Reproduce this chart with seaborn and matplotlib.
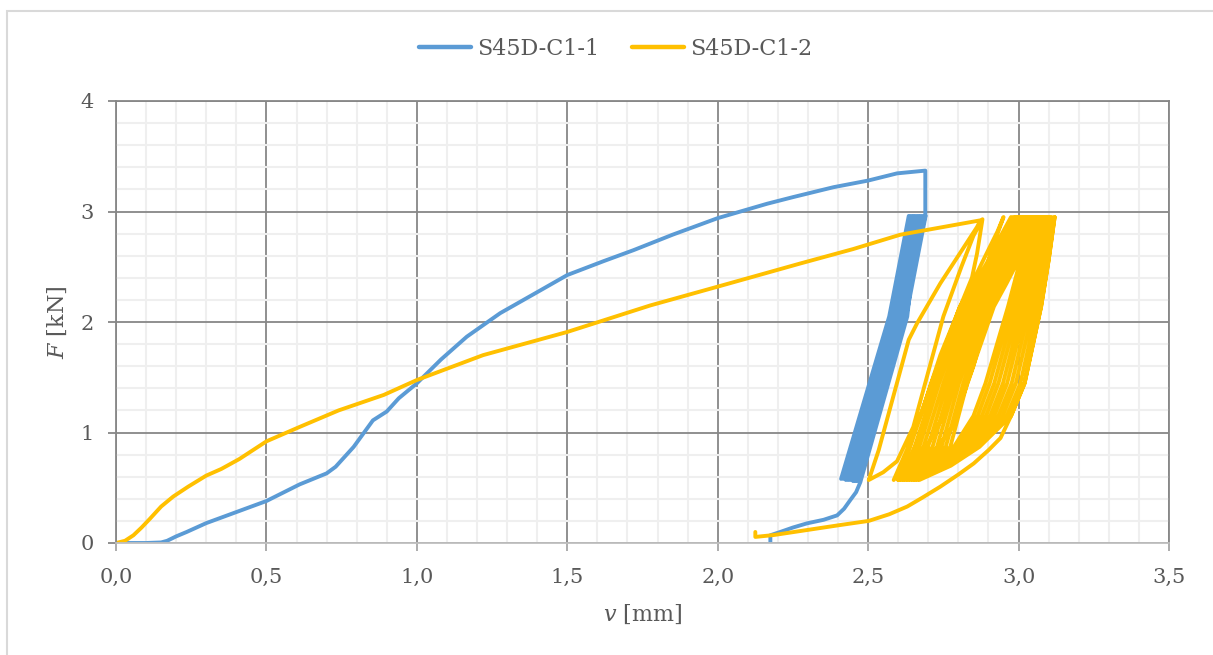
import matplotlib
matplotlib.use('Agg')
import pandas as pd
import seaborn as sns
import matplotlib.pyplot as plt
from matplotlib.ticker import MultipleLocator, FixedLocator
from matplotlib.patches import Rectangle

# S45D-C1-1 (blue): monotonic loading up to the peak
c1_load_v = [0.000, 0.050, 0.100, 0.150, 0.170, 0.200, 0.235, 0.300, 0.390, 0.500,
             0.610, 0.700, 0.730, 0.790, 0.854, 0.900, 0.940, 1.000, 1.080, 1.166,
             1.277, 1.400, 1.500, 1.620, 1.720, 1.850, 2.000, 2.164, 2.250, 2.385,
             2.500, 2.596, 2.690]
c1_load_F = [0.00, 0.00, 0.00, 0.005, 0.02, 0.06, 0.10, 0.18, 0.27, 0.38,
             0.53, 0.63, 0.69, 0.87, 1.11, 1.19, 1.31, 1.445, 1.66, 1.867,
             2.08, 2.27, 2.425, 2.55, 2.65, 2.79, 2.94, 3.07, 3.13, 3.22,
             3.28, 3.345, 3.37]

# S45D-C1-1: load cycles (turning points and mid points)
c1_cyc_v = [2.690, 2.600, 2.410, 2.570, 2.635, 2.600, 2.466, 2.626, 2.691,
            2.605, 2.418, 2.578, 2.643, 2.605, 2.458, 2.618, 2.683, 2.600,
            2.426, 2.586, 2.651, 2.605, 2.450, 2.610, 2.675, 2.600, 2.434,
            2.594, 2.659, 2.600, 2.442, 2.602, 2.667, 2.630, 2.474]
c1_cyc_F = [2.96, 2.05, 0.58, 2.05, 2.96, 2.05, 0.56, 2.05, 2.96,
            2.05, 0.58, 2.05, 2.96, 2.05, 0.56, 2.05, 2.96, 2.05,
            0.57, 2.05, 2.96, 2.05, 0.56, 2.05, 2.96, 2.05, 0.57,
            2.05, 2.96, 2.05, 0.57, 2.05, 2.96, 2.05, 0.55]

# S45D-C1-1: final unloading
c1_unload_v = [2.460, 2.441, 2.420, 2.397, 2.352, 2.297, 2.250, 2.208, 2.175, 2.175]
c1_unload_F = [0.46, 0.39, 0.31, 0.25, 0.21, 0.178, 0.14, 0.10, 0.07, -0.01]

# S45D-C1-2 (yellow): monotonic loading
c2_load_v = [0.000, 0.030, 0.058, 0.085, 0.113, 0.150, 0.190, 0.240, 0.300, 0.350,
             0.410, 0.500, 0.610, 0.740, 0.890, 1.000, 1.220, 1.500, 1.776, 2.000,
             2.275, 2.450, 2.607, 2.750, 2.873]
c2_load_F = [0.00, 0.02, 0.07, 0.14, 0.22, 0.33, 0.42, 0.51, 0.61, 0.67,
             0.76, 0.92, 1.05, 1.20, 1.34, 1.475, 1.70, 1.91, 2.15, 2.32,
             2.53, 2.66, 2.79, 2.86, 2.92]

# S45D-C1-2: first wide loops
c2_loop_v = [2.862, 2.800, 2.740, 2.663, 2.635, 2.574, 2.535, 2.502,
             2.550, 2.596, 2.650, 2.700, 2.750, 2.810, 2.850, 2.880,
             2.862, 2.845, 2.800, 2.740, 2.680, 2.630, 2.585,
             2.618, 2.680, 2.740, 2.800, 2.860, 2.910, 2.950,
             2.930, 2.890, 2.800, 2.740, 2.680, 2.640, 2.600,
             2.640, 2.700, 2.780, 2.850, 2.910, 2.950, 2.975]
c2_loop_F = [2.86, 2.60, 2.35, 1.99, 1.84, 1.23, 0.84, 0.57,
             0.64, 0.74, 1.05, 1.55, 2.05, 2.50, 2.78, 2.93,
             2.62, 2.40, 2.10, 1.70, 1.20, 0.85, 0.57,
             0.68, 0.80, 1.10, 1.60, 2.20, 2.65, 2.95,
             2.82, 2.60, 2.10, 1.60, 1.05, 0.75, 0.57,
             0.65, 0.75, 1.05, 1.60, 2.20, 2.60, 2.95]

# S45D-C1-2: dense cycles (one cycle per row: unloading, then reloading)
c2_dense_v = [
    2.975, 2.945, 2.900, 2.855, 2.805, 2.710, 2.640, 2.600, 2.600, 2.700, 2.785, 2.850, 2.890, 2.965, 3.006, 3.030,
    2.983, 2.954, 2.911, 2.867, 2.818, 2.723, 2.655, 2.608, 2.608, 2.708, 2.794, 2.864, 2.904, 2.977, 3.016, 3.040,
    2.992, 2.964, 2.922, 2.878, 2.830, 2.736, 2.670, 2.616, 2.616, 2.717, 2.804, 2.878, 2.919, 2.989, 3.027, 3.050,
    3.000, 2.973, 2.933, 2.890, 2.843, 2.750, 2.684, 2.623, 2.623, 2.725, 2.813, 2.892, 2.933, 3.002, 3.037, 3.060,
    3.008, 2.983, 2.944, 2.902, 2.855, 2.763, 2.699, 2.631, 2.631, 2.733, 2.823, 2.906, 2.948, 3.014, 3.048, 3.070,
    3.017, 2.992, 2.956, 2.913, 2.868, 2.776, 2.714, 2.639, 2.639, 2.742, 2.832, 2.919, 2.962, 3.026, 3.058, 3.080,
    3.025, 3.002, 2.967, 2.925, 2.880, 2.789, 2.729, 2.647, 2.647, 2.750, 2.842, 2.933, 2.977, 3.038, 3.069, 3.090,
    3.033, 3.011, 2.978, 2.937, 2.893, 2.802, 2.744, 2.654, 2.654, 2.758, 2.851, 2.947, 2.991, 3.051, 3.079, 3.100,
    3.042, 3.021, 2.989, 2.948, 2.905, 2.816, 2.758, 2.662, 2.662, 2.767, 2.861, 2.961, 3.006, 3.063, 3.090, 3.110,
    3.050, 3.030, 3.000, 2.960, 2.918, 2.829, 2.773, 2.670, 2.670, 2.775, 2.870, 2.975, 3.020, 3.075, 3.100, 3.120,
]
c2_dense_F = [
    2.95, 2.80, 2.56, 2.35, 2.14, 1.445, 0.87, 0.57, 0.57, 0.70, 0.87, 1.15, 1.445, 2.14, 2.56, 2.95,
    2.95, 2.80, 2.56, 2.35, 2.14, 1.445, 0.87, 0.57, 0.57, 0.70, 0.87, 1.15, 1.445, 2.14, 2.56, 2.95,
    2.95, 2.80, 2.56, 2.35, 2.14, 1.445, 0.87, 0.57, 0.57, 0.70, 0.87, 1.15, 1.445, 2.14, 2.56, 2.95,
    2.95, 2.80, 2.56, 2.35, 2.14, 1.445, 0.87, 0.57, 0.57, 0.70, 0.87, 1.15, 1.445, 2.14, 2.56, 2.95,
    2.95, 2.80, 2.56, 2.35, 2.14, 1.445, 0.87, 0.57, 0.57, 0.70, 0.87, 1.15, 1.445, 2.14, 2.56, 2.95,
    2.95, 2.80, 2.56, 2.35, 2.14, 1.445, 0.87, 0.57, 0.57, 0.70, 0.87, 1.15, 1.445, 2.14, 2.56, 2.95,
    2.95, 2.80, 2.56, 2.35, 2.14, 1.445, 0.87, 0.57, 0.57, 0.70, 0.87, 1.15, 1.445, 2.14, 2.56, 2.95,
    2.95, 2.80, 2.56, 2.35, 2.14, 1.445, 0.87, 0.57, 0.57, 0.70, 0.87, 1.15, 1.445, 2.14, 2.56, 2.95,
    2.95, 2.80, 2.56, 2.35, 2.14, 1.445, 0.87, 0.57, 0.57, 0.70, 0.87, 1.15, 1.445, 2.14, 2.56, 2.95,
    2.95, 2.80, 2.56, 2.35, 2.14, 1.445, 0.87, 0.57, 0.57, 0.70, 0.87, 1.15, 1.445, 2.14, 2.56, 2.95,
]

# S45D-C1-2: final unloading
c2_unload_v = [3.100, 3.075, 3.020, 2.975, 2.940, 2.900, 2.851, 2.800, 2.740, 2.680,
               2.630, 2.570, 2.502, 2.408, 2.297, 2.186, 2.125, 2.125]
c2_unload_F = [2.56, 2.14, 1.445, 1.15, 0.95, 0.84, 0.72, 0.62, 0.51, 0.41,
               0.33, 0.26, 0.20, 0.163, 0.118, 0.072, 0.055, 0.10]

series_names = ['S45D-C1-1', 'S45D-C1-2']
series_colors = ['#5B9BD5', '#FFC000']

x_ticks = [0.0, 0.5, 1.0, 1.5, 2.0, 2.5, 3.0, 3.5]
x_tick_labels = ['0,0', '0,5', '1,0', '1,5', '2,0', '2,5', '3,0', '3,5']
y_ticks = [0, 1, 2, 3, 4]
y_tick_labels = ['0', '1', '2', '3', '4']

# build one long table, keeping the recording order
v1 = c1_load_v + c1_cyc_v + c1_unload_v
F1 = c1_load_F + c1_cyc_F + c1_unload_F
v2 = c2_load_v + c2_loop_v + c2_dense_v + c2_unload_v
F2 = c2_load_F + c2_loop_F + c2_dense_F + c2_unload_F
df = pd.concat([
    pd.DataFrame({'v': v1, 'F': F1, 'series': series_names[0]}),
    pd.DataFrame({'v': v2, 'F': F2, 'series': series_names[1]}),
], ignore_index=True)

plt.rcParams['font.family'] = ['DejaVu Serif']
plt.rcParams['mathtext.fontset'] = 'dejavuserif'
plt.rcParams['lines.solid_joinstyle'] = 'round'
plt.rcParams['lines.solid_capstyle'] = 'round'

text_col = '#595959'
major_col = '#878787'

fig = plt.figure(figsize=(12.13, 6.55), dpi=100)
ax = fig.add_axes([116 / 1213, 1 - 543 / 655, (1169 - 116) / 1213, (543 - 101) / 655])

sns.lineplot(data=df, x='v', y='F', hue='series',
             palette=dict(zip(series_names, series_colors)),
             sort=False, estimator=None, linewidth=2.8, ax=ax)

ax.set_xlim(0, 3.5)
ax.set_ylim(0, 4)
ax.xaxis.set_major_locator(FixedLocator(x_ticks))
ax.set_xticklabels(x_tick_labels)
ax.yaxis.set_major_locator(FixedLocator(y_ticks))
ax.set_yticklabels(y_tick_labels)
ax.xaxis.set_minor_locator(MultipleLocator(0.1))
ax.yaxis.set_minor_locator(MultipleLocator(0.2))

ax.set_axisbelow(True)
ax.grid(which='major', color=major_col, linewidth=1.3)
ax.grid(which='minor', color='#efefef', linewidth=1.5)
ax.tick_params(which='minor', length=0)
ax.tick_params(axis='x', which='major', length=6, width=1.3, color='#a6a6a6',
               pad=12, labelsize=15, labelcolor=text_col)
ax.tick_params(axis='y', which='major', length=6, width=1.3, color=major_col,
               pad=10, labelsize=15, labelcolor=text_col)

for side in ['left', 'top', 'right']:
    ax.spines[side].set_color(major_col)
    ax.spines[side].set_linewidth(1.3)
ax.spines['bottom'].set_color('#bfbfbf')
ax.spines['bottom'].set_linewidth(1.3)

ax.set_xlabel(r'$v$ [mm]', fontsize=16, color=text_col, labelpad=11)
ax.set_ylabel(r'$F$ [kN]', fontsize=16, color=text_col, labelpad=8)

handles, labels = ax.get_legend_handles_labels()
ax.get_legend().remove()
for h in handles:
    h.set_linewidth(3.2)
fig.legend(handles, labels, loc='center', bbox_to_anchor=(0.5074, 0.925), ncol=2,
           frameon=False, fontsize=16, handlelength=2.35, handletextpad=0.25,
           columnspacing=1.5, labelcolor=text_col)

# light chart-area border
fig.patches.append(Rectangle((6.5 / 1213, -0.05), 1.2, 1.05 - 11.5 / 655,
                             transform=fig.transFigure, fill=False,
                             edgecolor='#d9d9d9', linewidth=1.5))

fig.savefig('out.png', dpi=100)
